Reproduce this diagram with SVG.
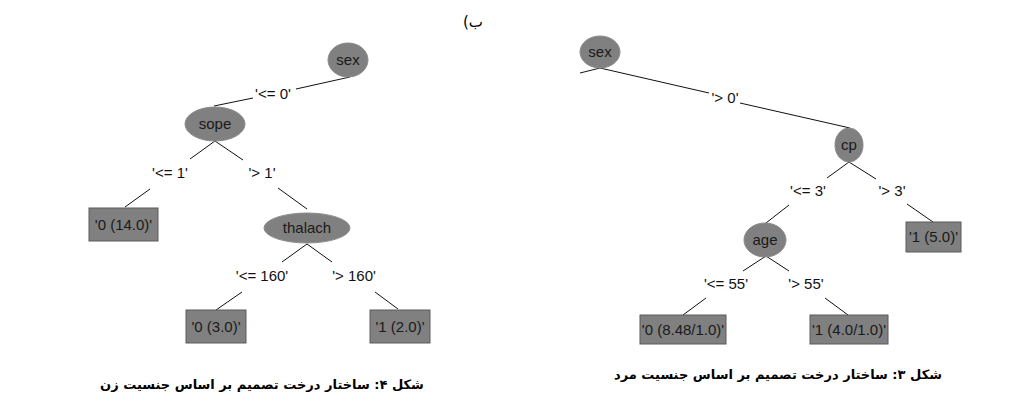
<svg xmlns="http://www.w3.org/2000/svg" width="1025" height="403" viewBox="0 0 1025 403">
<style>
.bg{fill:#ffffff}
.node ellipse{fill:#808080;stroke:#8a8a8a;stroke-width:1}
.node rect{fill:#808080;stroke:#5a5a5a;stroke-width:1}
.node text{font-family:"Liberation Sans",Arial,sans-serif;font-size:15px;fill:#1a1a1a;text-anchor:middle}
.edges line{stroke:#111;stroke-width:1}
.lbl{font-family:"Liberation Sans",Arial,sans-serif;font-size:15px;fill:#111;text-anchor:middle}
.cap{font-family:"DejaVu Sans","Noto Sans",sans-serif;font-size:13px;font-weight:bold;fill:#000;text-anchor:middle}
</style>
<rect class="bg" x="0" y="0" width="1025" height="403"/>
<text x="463" y="27" direction="ltr" style="font-family:'DejaVu Sans',sans-serif;font-size:15px;fill:#000">(ب</text>

<g id="edges" class="edges">
<line x1="350" y1="77" x2="296" y2="89"/>
<line x1="253" y1="98" x2="214" y2="106"/>
<line x1="215" y1="141" x2="190" y2="159"/>
<line x1="215" y1="141" x2="243" y2="160"/>
<line x1="150" y1="189" x2="125" y2="207"/>
<line x1="278" y1="188" x2="307" y2="209"/>
<line x1="307" y1="244" x2="282" y2="262"/>
<line x1="307" y1="244" x2="332" y2="262"/>
<line x1="242" y1="292" x2="216" y2="310"/>
<line x1="375" y1="292" x2="398" y2="309"/>
<line x1="600" y1="68" x2="580" y2="73"/>
<line x1="600" y1="68" x2="709" y2="93"/>
<line x1="740" y1="103" x2="850" y2="128"/>
<line x1="849" y1="162" x2="827" y2="178"/>
<line x1="849" y1="162" x2="876" y2="179"/>
<line x1="789" y1="205" x2="766" y2="223"/>
<line x1="907" y1="204" x2="933" y2="222"/>
<line x1="766" y1="256" x2="743" y2="271"/>
<line x1="766" y1="256" x2="789" y2="271"/>
<line x1="706" y1="298" x2="683" y2="315"/>
<line x1="825" y1="298" x2="848" y2="315"/>
</g>

<g id="edge-labels">
<text class="lbl" x="273" y="99">'&lt;= 0'</text>
<text class="lbl" x="170" y="178">'&lt;= 1'</text>
<text class="lbl" x="262" y="178">'&gt; 1'</text>
<text class="lbl" x="262" y="281">'&lt;= 160'</text>
<text class="lbl" x="354" y="281">'&gt; 160'</text>
<text class="lbl" x="725" y="103">'&gt; 0'</text>
<text class="lbl" x="808" y="196">'&lt;= 3'</text>
<text class="lbl" x="892" y="196">'&gt; 3'</text>
<text class="lbl" x="726" y="289">'&lt;= 55'</text>
<text class="lbl" x="806" y="289">'&gt; 55'</text>
</g>

<g id="n-sex-f" class="node"><ellipse cx="348" cy="60" rx="20" ry="17"/><text x="348" y="65">sex</text></g>
<g id="n-sope" class="node"><ellipse cx="215" cy="124" rx="30" ry="17"/><text x="215" y="129">sope</text></g>
<g id="n-leaf-f1" class="node"><rect x="89" y="208" width="69" height="33"/><text x="123.5" y="230">'0 (14.0)'</text></g>
<g id="n-thalach" class="node"><ellipse cx="307" cy="228" rx="43" ry="15"/><text x="307" y="233">thalach</text></g>
<g id="n-leaf-f2" class="node"><rect x="186" y="310" width="60" height="33"/><text x="216" y="332">'0 (3.0)'</text></g>
<g id="n-leaf-f3" class="node"><rect x="370" y="310" width="60" height="33"/><text x="400" y="332">'1 (2.0)'</text></g>

<g id="n-sex-m" class="node"><ellipse cx="600" cy="52" rx="20" ry="16"/><text x="600" y="57">sex</text></g>
<g id="n-cp" class="node"><ellipse cx="849" cy="145" rx="14" ry="17"/><text x="849" y="150">cp</text></g>
<g id="n-age" class="node"><ellipse cx="765" cy="240" rx="21" ry="17"/><text x="765" y="245">age</text></g>
<g id="n-leaf-m1" class="node"><rect x="906" y="222" width="55" height="30"/><text x="933.5" y="242">'1 (5.0)'</text></g>
<g id="n-leaf-m2" class="node"><rect x="640" y="315" width="86" height="29"/><text x="683" y="335">'0 (8.48/1.0)'</text></g>
<g id="n-leaf-m3" class="node"><rect x="810" y="315" width="78" height="29"/><text x="849" y="335">'1 (4.0/1.0)'</text></g>

<text class="cap" x="262" y="389" direction="rtl">شکل ۴: ساختار درخت تصمیم بر اساس جنسیت زن</text>
<text class="cap" x="778" y="379" direction="rtl">شکل ۳: ساختار درخت تصمیم بر اساس جنسیت مرد</text>
</svg>
